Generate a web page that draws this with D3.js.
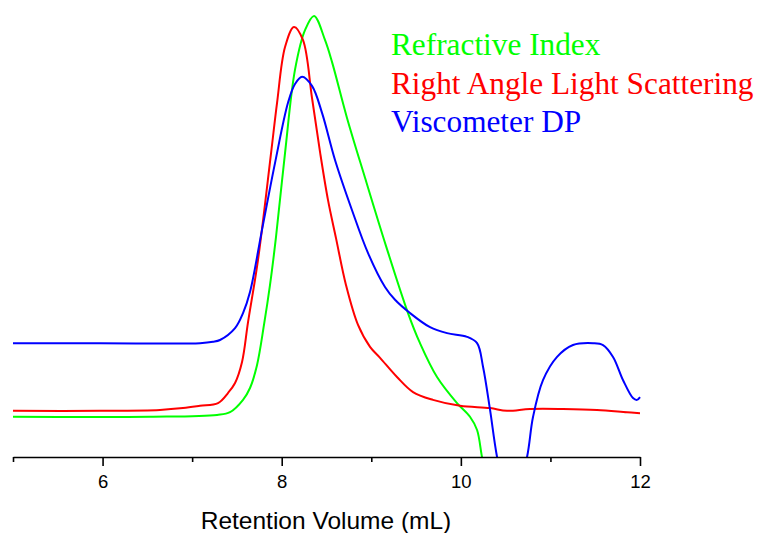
<!DOCTYPE html>
<html lang="en">

<head>
    <meta charset="UTF-8">
    <script src="https://cdn.jsdelivr.net/npm/d3@7/dist/d3.min.js" charset="utf-8"></script>
    <title>GPC Detector Traces</title>
    <style>
        body { margin: 0; background: #fff; }
    </style>
</head>

<body>
    <script>
        // refractive index
        var riVolume = [5.00, 6.53, 7.278, 7.423, 7.568, 7.646, 7.724, 7.802, 7.869, 7.936, 8.037, 8.148, 8.260, 8.361, 8.484, 8.562, 8.729, 8.930, 9.164, 9.410, 9.544, 9.734, 9.957, 10.102, 10.181, 10.236, 10.27];
        var riSignal = [8.8, 8.8, 9.2, 9.8, 12.5, 15.1, 20.1, 28.9, 37.6, 48.1, 66.5, 84.7, 93.4, 96.5, 91.2, 86.4, 74.2, 61.1, 46.2, 31.5, 24.9, 17.5, 11.8, 8.8, 5.9, 0, -2.8];

        // right angle light scattering
        var lsVolume = [5.00, 5.971, 6.641, 6.898, 7.088, 7.289, 7.400, 7.479, 7.557, 7.624, 7.735, 7.881, 7.948, 8.037, 8.137, 8.238, 8.338, 8.428, 8.517, 8.606, 8.718, 8.852, 8.986, 9.098, 9.287, 9.466, 9.689, 9.991, 10.326, 10.515, 10.772, 11.141, 11.520, 11.855, 12.0];
        var lsSignal = [10.1, 10.1, 10.3, 10.7, 11.2, 11.8, 14.0, 16.2, 20.8, 29.5, 43.1, 66.5, 77.5, 89.7, 94.1, 91.2, 78.6, 66.7, 56.2, 47.9, 37.6, 28.9, 24.1, 21.7, 17.5, 14.2, 12.5, 11.2, 10.7, 10.1, 10.5, 10.5, 10.3, 9.8, 9.6];

        // viscometer differential pressure
        var dpVolume = [5.00, 5.971, 7.088, 7.233, 7.311, 7.479, 7.568, 7.646, 7.780, 7.925, 8.070, 8.148, 8.227, 8.338, 8.450, 8.595, 8.785, 8.964, 9.153, 9.265, 9.432, 9.656, 9.846, 10.069, 10.181, 10.248, 10.326, 10.404, 10.560, 10.739, 10.806, 10.917, 11.074, 11.252, 11.476, 11.587, 11.699, 11.811, 11.922, 11.967, 12.0];
        var dpSignal = [24.9, 24.9, 24.9, 25.2, 25.6, 28.2, 31.5, 36.1, 49.7, 64.3, 77.5, 81.6, 83.2, 81.2, 75.3, 65.0, 54.0, 44.6, 37.2, 34.4, 31.5, 28.4, 27.1, 26.3, 24.9, 19.7, 10.3, 0, -13.8, 0, 8.8, 16.8, 21.9, 24.5, 24.9, 24.5, 21.9, 16.8, 12.9, 12.5, 13.1];

        var xTicks = [5, 6, 7, 8, 9, 10, 11, 12];
        var seriesNames = ["Refractive Index", "Right Angle Light Scattering", "Viscometer DP"];
        var seriesColors = ["#00ff00", "#ff0000", "#0000ff"];

        var width = 762;
        var height = 533;
        var axisY = 457;

        var x = d3.scaleLinear().domain([5, 12]).range([13, 640]);
        var y = d3.scaleLinear().domain([0, 100]).range([axisY, 0]);

        var svg = d3.select("body").append("svg").attr("width", width).attr("height", height);

        svg.append("clipPath").attr("id", "plotclip").append("rect")
            .attr("x", 0).attr("y", 0).attr("width", width).attr("height", axisY);

        var line = d3.line()
            .x(function (d) { return x(d[0]); })
            .y(function (d) { return y(d[1]); })
            .curve(d3.curveCatmullRom.alpha(0.5));

        var traces = [
            d3.zip(riVolume, riSignal),
            d3.zip(lsVolume, lsSignal),
            d3.zip(dpVolume, dpSignal)
        ];

        svg.append("g").attr("clip-path", "url(#plotclip)")
            .selectAll("path").data(traces).enter().append("path")
            .attr("d", line)
            .attr("fill", "none")
            .attr("stroke", function (d, i) { return seriesColors[i]; })
            .attr("stroke-width", 2)
            .attr("stroke-linejoin", "round");

        // x axis, long ticks on even values, labels only there
        var axis = d3.axisBottom(x).tickValues(xTicks).tickSizeOuter(0)
            .tickFormat(function (d) { return d % 2 === 0 ? d : ""; });
        var gx = svg.append("g").attr("transform", "translate(0," + axisY + ")").call(axis);
        gx.select(".domain").attr("stroke", "#000").attr("stroke-width", 1.6);
        gx.selectAll(".tick line").attr("stroke", "#000").attr("stroke-width", 1.6)
            .attr("y2", function (d) { return d % 2 === 0 ? 9 : 5; });
        gx.selectAll(".tick text")
            .attr("y", 18)
            .style("font-family", "Arial, 'Liberation Sans', sans-serif")
            .style("font-size", "18.5px")
            .attr("fill", "#000");

        svg.append("text")
            .attr("x", 326).attr("y", 529)
            .attr("text-anchor", "middle")
            .style("font-family", "Arial, 'Liberation Sans', sans-serif")
            .style("font-size", "24.5px")
            .text("Retention Volume (mL)");

        svg.selectAll(".legend").data(seriesNames).enter().append("text")
            .attr("class", "legend")
            .attr("x", 391)
            .attr("y", function (d, i) { return 55 + i * 38.5; })
            .style("font-family", "'Times New Roman', 'Liberation Serif', serif")
            .style("font-size", "31.3px")
            .attr("fill", function (d, i) { return seriesColors[i]; })
            .text(function (d) { return d; });
    </script>
</body>

</html>
